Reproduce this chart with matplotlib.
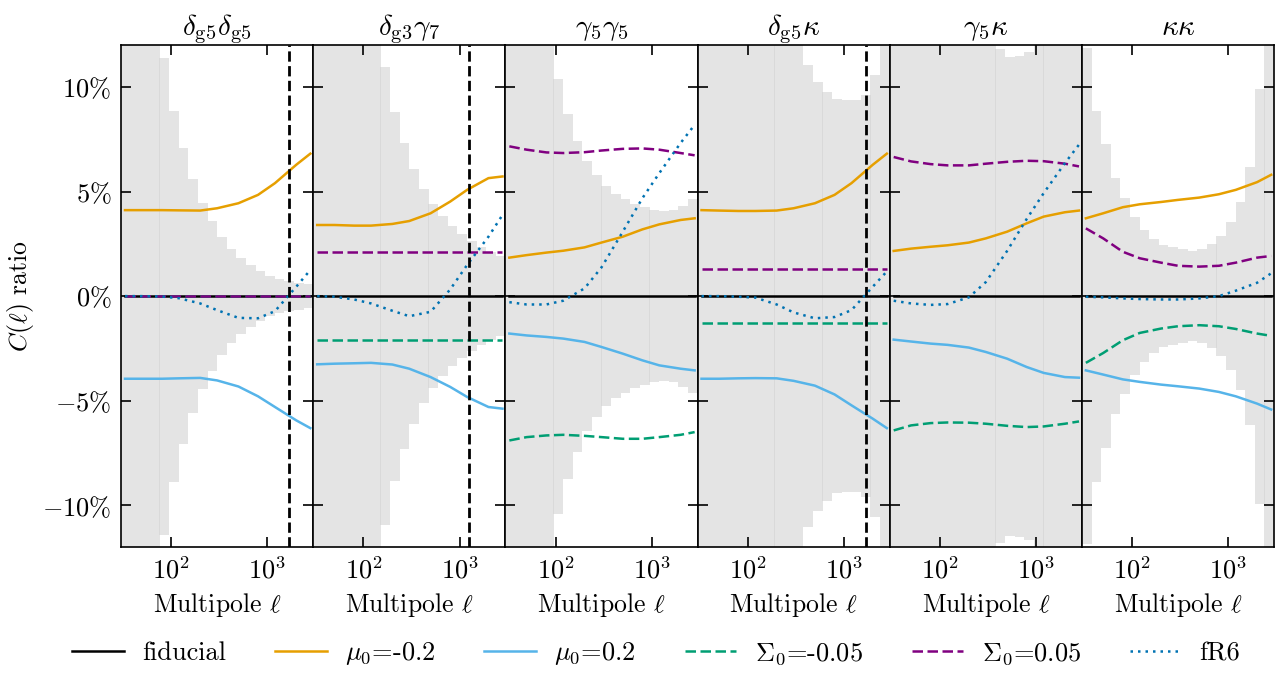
import numpy as np
import matplotlib
matplotlib.use('Agg')
import matplotlib.pyplot as plt
from matplotlib.ticker import FuncFormatter, NullLocator, FixedLocator

plt.rcParams['font.family'] = 'serif'
plt.rcParams['font.serif'] = ['cmr10', 'DejaVu Serif']
plt.rcParams['mathtext.fontset'] = 'cm'
plt.rcParams['axes.formatter.use_mathtext'] = True
plt.rcParams['font.size'] = 17

titles = [r'$\delta_{\rm g5}\delta_{\rm g5}$', r'$\delta_{\rm g3}\gamma_7$', r'$\gamma_5\gamma_5$',
          r'$\delta_{\rm g5}\kappa$', r'$\gamma_5\kappa$', r'$\kappa\kappa$']

# ell bin edges (20 log bins) and the half-width of the grey band per bin, in %
ell_edges = [30, 37.8, 47.5, 59.9, 75.4, 94.9, 119.5, 150.4, 189.3, 238.4, 300,
             377.7, 475.5, 598.6, 753.6, 948.7, 1194, 1503, 1893, 2383, 3000]
err = [
    [13, 13, 13, 13, 11.4, 8.87, 7.09, 5.59, 4.44, 3.59, 2.83, 2.24, 1.81, 1.47, 1.20, 0.94, 0.83, 0.70, 0.64, 0.56],
    [13, 13, 13, 13, 13, 13, 13, 10.93, 8.82, 7.33, 6.09, 5.13, 4.41, 3.83, 3.35, 2.97, 2.62, 2.33, 2.09, 1.92],
    [13, 13, 13, 13, 13, 10.40, 8.72, 7.43, 6.47, 5.80, 5.27, 4.89, 4.65, 4.41, 4.27, 4.12, 4.07, 4.12, 4.33, 4.65],
    [13, 13, 13, 13, 13, 13, 13, 13, 13, 13, 13, 11.05, 10.25, 9.78, 9.43, 9.38, 9.38, 9.62, 10.57, 13],
    [13, 13, 13, 13, 13, 13, 13, 13, 13, 13, 13, 11.8, 11.45, 11.5, 11.65, 13, 13, 13, 13, 13],
    [11.87, 8.87, 7.27, 5.64, 4.68, 3.79, 3.16, 2.73, 2.44, 2.33, 2.25, 2.16, 2.25, 2.49, 2.88, 3.55, 4.50, 6.18, 9.92, 13],
]

# scale cut (vertical dashed line), None if absent
ell_cut = [1700, 1250, None, 1700, None, None]

# model curves, ratio - 1 in %
ell = [33, 50, 80, 120, 200, 300, 500, 800, 1200, 2000, 2800]
fiducial = [0] * 11
mu_neg = [
    [4.11, 4.11, 4.11, 4.10, 4.09, 4.20, 4.44, 4.84, 5.40, 6.28, 6.81],
    [3.40, 3.40, 3.37, 3.37, 3.45, 3.59, 3.96, 4.52, 5.08, 5.64, 5.72],
    [1.84, 1.96, 2.08, 2.17, 2.33, 2.56, 2.84, 3.19, 3.43, 3.64, 3.72],
    [4.11, 4.09, 4.07, 4.07, 4.09, 4.20, 4.44, 4.84, 5.40, 6.28, 6.81],
    [2.16, 2.27, 2.36, 2.43, 2.56, 2.76, 3.08, 3.48, 3.80, 4.01, 4.09],
    [3.72, 3.96, 4.25, 4.39, 4.50, 4.60, 4.71, 4.87, 5.08, 5.45, 5.80],
]
mu_pos = [
    [-3.95, -3.95, -3.95, -3.93, -3.91, -4.03, -4.32, -4.79, -5.30, -5.94, -6.31],
    [-3.26, -3.23, -3.21, -3.19, -3.27, -3.47, -3.87, -4.34, -4.82, -5.30, -5.38],
    [-1.79, -1.88, -1.95, -2.03, -2.19, -2.43, -2.75, -3.07, -3.31, -3.47, -3.55],
    [-3.95, -3.95, -3.93, -3.92, -3.93, -4.05, -4.28, -4.70, -5.22, -5.86, -6.31],
    [-2.08, -2.17, -2.27, -2.33, -2.46, -2.67, -2.99, -3.39, -3.67, -3.87, -3.90],
    [-3.55, -3.75, -3.98, -4.10, -4.23, -4.31, -4.42, -4.58, -4.79, -5.14, -5.42],
]
sig_neg = [
    [0] * 11,
    [-2.08] * 11,
    [-6.90, -6.74, -6.66, -6.63, -6.68, -6.74, -6.82, -6.82, -6.74, -6.63, -6.50],
    [-1.28] * 11,
    [-6.42, -6.18, -6.07, -6.04, -6.05, -6.10, -6.20, -6.26, -6.23, -6.10, -5.99],
    [-3.19, -2.72, -2.11, -1.76, -1.55, -1.44, -1.39, -1.44, -1.57, -1.79, -1.90],
]
sig_pos = [
    [0] * 11,
    [2.09] * 11,
    [7.16, 7.00, 6.87, 6.84, 6.88, 6.96, 7.04, 7.06, 7.00, 6.84, 6.73],
    [1.28] * 11,
    [6.65, 6.44, 6.31, 6.25, 6.25, 6.33, 6.42, 6.47, 6.45, 6.33, 6.20],
    [3.24, 2.76, 2.12, 1.81, 1.60, 1.45, 1.41, 1.45, 1.60, 1.84, 1.92],
]
fr6 = [
    [0, 0, -0.02, -0.10, -0.35, -0.67, -1.04, -1.06, -0.72, 0.45, 1.25],
    [0, -0.03, -0.16, -0.35, -0.70, -0.96, -0.75, 0.32, 1.49, 2.84, 3.88],
    [-0.29, -0.40, -0.40, -0.22, 0.37, 1.37, 3.08, 4.68, 5.88, 7.32, 8.19],
    [0, 0, -0.03, -0.07, -0.40, -0.78, -1.06, -1.00, -0.67, 0.45, 1.18],
    [-0.22, -0.35, -0.42, -0.38, -0.06, 0.67, 2.16, 3.69, 4.92, 6.36, 7.24],
    [-0.03, -0.06, -0.11, -0.14, -0.16, -0.16, -0.11, 0.00, 0.26, 0.64, 1.09],
]

fig, axes = plt.subplots(1, 6, figsize=(12.82, 6.73), dpi=100, sharey=True)
fig.subplots_adjust(left=0.0944, right=0.9938, top=0.933, bottom=0.187, wspace=0)

edges = np.array(ell_edges)
for i, ax in enumerate(axes):
    e = np.array(err[i])
    # slight overlap of neighbouring bins gives the faint seams
    ax.bar(edges[:-1], 2 * e, width=np.diff(edges) * 1.012, bottom=-e, align='edge',
           color='lightgrey', alpha=0.6, linewidth=0, zorder=0)
    ax.plot(ell, fiducial, color='black', lw=1.8, label='fiducial')
    ax.plot(ell, mu_neg[i], color='#E69F00', lw=1.8, label=r'$\mu_0$=-0.2')
    ax.plot(ell, mu_pos[i], color='#56B4E9', lw=1.8, label=r'$\mu_0$=0.2')
    ax.plot(ell, sig_neg[i], color='#009E73', lw=1.8, dashes=(4.2, 1.8), label=r'$\Sigma_0$=-0.05')
    ax.plot(ell, sig_pos[i], color='#800080', lw=1.8, dashes=(4.2, 1.8), label=r'$\Sigma_0$=0.05')
    ax.plot(ell, fr6[i], color='#0072B2', lw=1.8, dashes=(1.0, 2.0), label='fR6')
    if ell_cut[i] is not None:
        ax.axvline(ell_cut[i], color='black', lw=2, ls='--')

    ax.set_xscale('log')
    ax.set_xlim(30, 3000)
    ax.set_ylim(-12, 12)
    ax.xaxis.set_major_locator(FixedLocator([100, 1000]))
    ax.xaxis.set_minor_locator(NullLocator())
    ax.xaxis.set_major_formatter(FuncFormatter(lambda v, p: r'$10^{%d}$' % round(np.log10(v))))
    ax.set_yticks([-10, -5, 0, 5, 10])
    ax.yaxis.set_minor_locator(NullLocator())
    ax.tick_params(direction='in', top=True, right=True, length=7, width=1.2, labelsize=19, pad=7)
    for s in ax.spines.values():
        s.set_linewidth(1.2)
    ax.set_title(titles[i], fontsize=21, pad=7)
    ax.set_xlabel(r'Multipole $\ell$', fontsize=18.5, labelpad=5)

axes[0].yaxis.set_major_formatter(FuncFormatter(lambda v, p: r'$%g\%%$' % v))
axes[0].set_ylabel(r'$C(\ell)$ ratio', fontsize=18.5)

handles, labels = axes[0].get_legend_handles_labels()
fig.legend(handles, labels, loc='lower center', ncol=6, frameon=False,
           bbox_to_anchor=(0.512, -0.027), fontsize=19, handlelength=1.95,
           handletextpad=0.7, columnspacing=1.85)

plt.savefig('out.png', dpi=100)
